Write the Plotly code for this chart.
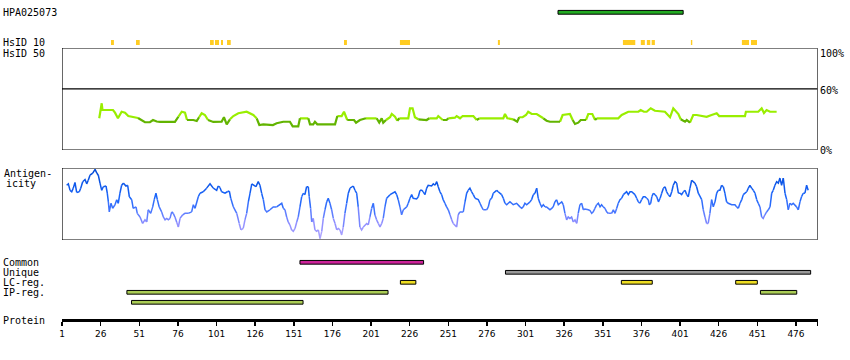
import plotly.graph_objects as go

# ---------------- data ----------------
protein_length = 489
tick_values = list(range(1, 477, 25))
tick_labels = [str(v) for v in tick_values]

antibody_name = "HPA025073"
antigen_start = [322]
antigen_end = [403]

hsid10_start = [32.7, 48.9, 96.8, 100.0, 103.9, 107.8, 183.5, 219.7, 283.1, 364.0, 375.6, 379.5, 382.6, 408.0, 441.0, 446.9]
hsid10_end = [34.6, 51.3, 99.2, 102.6, 105.2, 110.2, 185.4, 226.2, 284.4, 372.0, 378.2, 381.7, 384.7, 408.9, 445.6, 450.8]

hsid50_pos = [25.1, 26.7, 27.2, 34.0, 35.3, 37.2, 39.6, 41.8, 43.9, 47.1,
              50.2, 52.6, 54.7, 57.9, 59.9, 62.3, 64.4, 74.1, 76.3, 78.5,
              80.6, 81.9, 86.0, 88.2, 89.7, 91.4, 93.5, 95.5, 98.9, 104.3,
              105.8, 107.6, 109.7, 111.9, 115.1, 120.5, 124.8, 127.0, 128.7, 131.3,
              137.5, 139.9, 144.2, 148.5, 150.3, 153.9, 155.0, 160.4, 161.5, 163.6,
              164.7, 166.2, 177.7, 179.2, 182.0, 183.5, 184.8, 185.6, 190.0, 191.3,
              193.8, 197.7, 204.6, 206.3, 207.9, 208.9, 210.7, 213.3, 214.4, 216.5,
              218.0, 219.3, 225.1, 226.2, 227.9, 229.4, 231.6, 237.0, 238.7, 243.5,
              244.5, 247.4, 249.9, 251.0, 255.3, 256.4, 258.6, 260.3, 267.2, 269.4,
              271.0, 286.6, 287.7, 289.2, 293.0, 295.6, 296.9, 299.1, 301.3, 302.7,
              305.0, 308.2, 312.5, 314.6, 316.8, 323.3, 325.0, 329.7, 331.5, 333.0,
              335.1, 336.7, 340.1, 341.6, 344.2, 346.0, 347.0, 361.0, 363.2, 367.5,
              374.0, 375.5, 377.6, 379.4, 382.0, 384.7, 391.2, 393.4, 394.5, 396.6,
              399.9, 401.4, 404.2, 405.3, 407.4, 409.5, 411.7, 418.2, 421.4, 424.7,
              426.3, 443.0, 443.6, 451.6, 453.8, 455.3, 457.0, 459.2, 463.5]
hsid50_val = [31.1, 45.8, 39.2, 39.2, 36.6, 31.1, 37.5, 36.6, 33.3, 32.4,
              31.4, 29.4, 27.2, 27.2, 29.4, 27.9, 27.5, 27.5, 32.6, 37.5,
              36.6, 29.4, 29.4, 28.4, 32.1, 36.0, 34.3, 29.4, 27.5, 27.7,
              32.1, 25.2, 30.1, 33.3, 36.0, 37.5, 34.3, 31.1, 24.5, 25.2,
              24.5, 26.2, 27.7, 27.7, 23.2, 23.2, 31.1, 31.1, 25.2, 25.2,
              27.7, 25.2, 25.2, 33.3, 33.3, 37.5, 33.3, 29.4, 29.4, 26.8,
              29.4, 31.1, 31.1, 26.8, 31.1, 26.8, 29.4, 32.1, 35.3, 32.6,
              28.7, 31.1, 31.1, 40.9, 40.9, 32.1, 30.1, 29.4, 31.1, 31.1,
              33.3, 29.4, 29.4, 31.1, 31.7, 33.3, 31.1, 33.3, 33.3, 29.4,
              31.1, 31.1, 35.3, 31.1, 30.1, 27.7, 32.1, 32.1, 34.3, 37.5,
              35.3, 35.3, 31.1, 28.7, 27.7, 27.7, 34.3, 35.3, 29.4, 25.5,
              26.8, 29.4, 29.4, 35.3, 35.3, 29.4, 31.1, 31.1, 34.3, 37.5,
              37.5, 39.2, 37.5, 37.5, 40.9, 38.5, 37.5, 34.3, 32.1, 40.9,
              35.3, 30.1, 27.7, 29.4, 26.8, 34.3, 34.3, 32.6, 34.3, 36.0,
              33.3, 33.3, 37.5, 37.5, 40.9, 36.3, 39.2, 37.5, 37.5]

antigenicity_profile = [
    (4.0, .76), (5.1, .78), (6.2, .69), (7.3, .67), (8.3, .72), (9.4, .80), (10.5, .66), (12.2, .67), (13.1, .72), (14.4, .81),
    (15.9, .84), (17.0, .78), (18.0, .83), (19.1, .90), (20.9, .93), (22.4, .98), (23.5, .93), (24.5, .90), (25.6, .79), (26.7, .69),
    (27.7, .74), (29.5, .75), (30.3, .65), (31.0, .53), (31.6, .39), (32.7, .51), (33.8, .44), (35.3, .49), (36.4, .56), (37.4, .51),
    (38.5, .65), (39.6, .76), (40.7, .79), (42.4, .75), (43.5, .76), (44.6, .60), (46.1, .56), (47.1, .44), (48.9, .46), (49.7, .37),
    (51.5, .32), (53.2, .23), (54.7, .28), (55.8, .25), (56.8, .42), (58.4, .37), (59.7, .46), (60.7, .56), (61.8, .65), (62.7, .56),
    (63.9, .46), (65.5, .39), (66.6, .32), (67.7, .28), (68.8, .30), (69.8, .28), (70.9, .30), (72.0, .39), (73.0, .37), (74.1, .32),
    (75.2, .25), (76.3, .18), (77.4, .30), (79.1, .35), (80.6, .37), (82.7, .37), (84.9, .39), (86.0, .49), (87.1, .44), (89.2, .60),
    (90.3, .65), (92.4, .67), (94.6, .72), (96.8, .78), (98.9, .72), (101.1, .69), (102.1, .75), (103.2, .73), (104.3, .67), (106.5, .65),
    (108.0, .67), (109.3, .68), (110.2, .58), (111.9, .46), (114.1, .37), (115.7, .23), (116.8, .14), (118.3, .16), (119.4, .28), (120.5, .37),
    (121.6, .53), (122.7, .65), (123.8, .78), (124.8, .76), (126.5, .74), (128.0, .81), (129.1, .76), (130.2, .65), (131.3, .56), (132.4, .42),
    (133.5, .39), (135.6, .42), (137.7, .46), (139.9, .46), (142.1, .49), (143.2, .51), (144.2, .44), (145.3, .42), (146.4, .32), (147.4, .25),
    (148.5, .21), (149.6, .14), (150.7, .12), (151.8, .16), (152.9, .25), (153.9, .32), (155.0, .46), (156.1, .60), (157.2, .65), (158.2, .63),
    (159.3, .74), (160.4, .74), (161.0, .60), (161.9, .44), (162.6, .25), (163.6, .30), (164.7, .14), (165.8, .12), (166.9, .14), (168.0, .02),
    (169.1, .12), (170.1, .30), (171.2, .42), (172.3, .53), (173.3, .58), (174.4, .51), (175.5, .42), (176.6, .30), (177.7, .23), (178.8, .14),
    (179.8, .16), (180.9, .14), (182.0, .07), (183.0, .18), (184.1, .37), (185.2, .51), (186.3, .65), (187.4, .72), (188.5, .74), (189.5, .75),
    (190.6, .69), (191.7, .65), (192.7, .46), (193.8, .18), (194.9, .14), (196.0, .18), (197.1, .21), (198.2, .23), (199.2, .21), (200.3, .32),
    (201.4, .44), (202.5, .51), (203.5, .35), (204.6, .28), (205.7, .23), (206.8, .18), (207.9, .23), (208.9, .30), (210.0, .46), (211.1, .58),
    (212.2, .60), (213.3, .63), (215.4, .66), (216.5, .67), (217.6, .63), (218.6, .56), (219.7, .46), (220.8, .35), (221.9, .42), (223.0, .44),
    (224.1, .46), (225.1, .51), (226.2, .58), (227.3, .63), (228.3, .58), (230.5, .57), (231.6, .60), (232.7, .69), (233.8, .69), (234.8, .67),
    (235.9, .63), (237.0, .72), (238.0, .76), (240.2, .75), (241.3, .78), (242.4, .76), (243.5, .81), (244.5, .74), (245.6, .67), (246.7, .63),
    (247.7, .56), (248.8, .51), (249.9, .46), (251.0, .42), (252.1, .35), (253.2, .28), (254.2, .23), (255.3, .21), (256.4, .18), (257.4, .35),
    (258.5, .39), (260.7, .39), (261.8, .53), (262.9, .65), (263.9, .69), (265.0, .72), (266.1, .67), (267.2, .63), (268.3, .58), (270.4, .56),
    (271.5, .51), (272.6, .46), (273.6, .42), (275.8, .42), (276.9, .46), (278.0, .56), (279.1, .58), (280.1, .65), (282.3, .69), (283.3, .67),
    (284.4, .65), (285.5, .63), (286.6, .58), (287.7, .51), (288.8, .49), (289.8, .51), (290.9, .53), (292.0, .51), (293.0, .49), (295.2, .51),
    (297.4, .46), (298.5, .44), (299.5, .46), (300.6, .51), (301.7, .49), (302.8, .51), (303.9, .53), (304.9, .56), (306.0, .63), (307.1, .65),
    (308.2, .72), (309.2, .58), (310.3, .51), (311.4, .46), (312.5, .49), (313.6, .46), (314.6, .46), (315.7, .44), (316.8, .42), (317.9, .44),
    (318.9, .46), (320.0, .53), (321.1, .56), (322.2, .49), (323.3, .51), (324.4, .53), (325.4, .49), (326.5, .37), (327.6, .28), (328.6, .32),
    (329.7, .30), (330.8, .32), (331.9, .25), (333.0, .28), (334.1, .23), (335.1, .37), (336.2, .49), (337.3, .51), (338.4, .42), (339.4, .43),
    (341.6, .42), (342.7, .41), (343.8, .37), (344.8, .39), (345.9, .44), (347.0, .49), (348.1, .51), (349.2, .46), (350.2, .49), (351.3, .46),
    (352.4, .44), (353.5, .39), (354.5, .37), (356.7, .37), (357.8, .42), (358.9, .37), (360.0, .44), (361.0, .51), (362.1, .56), (363.2, .58),
    (364.3, .63), (365.3, .65), (366.4, .67), (367.5, .63), (368.6, .67), (369.7, .67), (370.7, .65), (371.8, .63), (372.9, .58), (374.0, .53),
    (375.0, .51), (376.1, .56), (377.2, .60), (378.3, .60), (379.4, .58), (380.4, .56), (381.1, .49), (382.0, .51), (382.7, .60), (383.7, .65),
    (384.8, .63), (385.9, .60), (387.0, .53), (388.1, .58), (389.1, .65), (390.2, .72), (391.3, .74), (392.3, .67), (393.4, .63), (394.5, .60),
    (395.6, .67), (396.6, .76), (397.7, .81), (398.8, .79), (399.9, .65), (400.9, .65), (402.0, .63), (403.1, .67), (404.2, .69), (405.3, .63),
    (406.3, .60), (407.4, .72), (408.5, .83), (409.6, .81), (410.6, .79), (411.7, .74), (412.8, .65), (413.9, .60), (415.0, .56), (416.0, .42),
    (417.1, .32), (418.2, .23), (419.2, .23), (420.3, .37), (421.4, .56), (422.5, .46), (423.6, .53), (424.7, .65), (425.7, .69), (426.8, .69),
    (427.9, .76), (429.0, .74), (430.0, .65), (431.1, .53), (432.2, .51), (434.4, .49), (436.5, .49), (437.6, .46), (438.7, .44), (439.8, .51),
    (440.9, .56), (441.9, .63), (443.0, .65), (444.1, .67), (445.2, .72), (446.2, .76), (447.3, .72), (448.4, .69), (449.5, .65), (450.6, .56),
    (451.6, .51), (452.7, .46), (453.8, .32), (454.8, .30), (455.9, .35), (457.0, .39), (458.1, .42), (459.2, .46), (460.3, .65), (461.3, .69),
    (462.4, .76), (463.5, .81), (464.6, .79), (465.6, .86), (466.7, .76), (467.8, .86), (468.9, .65), (470.0, .56), (471.0, .42), (472.1, .51),
    (473.2, .49), (474.2, .51), (475.3, .49), (476.4, .46), (477.5, .42), (478.6, .53), (479.6, .60), (480.7, .65), (481.8, .65), (482.9, .76),
    (483.9, .69),
]
antigen_pos = [p for p, _ in antigenicity_profile]
antigen_val = [v for _, v in antigenicity_profile]

common_start = [155]
common_end = [235]
unique_start = [288]
unique_end = [485.5]
lc_start = [220, 363, 437]
lc_end = [230, 383, 451]
ip_start = [43, 453, 46]
ip_end = [212, 476.5, 157]
ip_row = [3, 3, 4]

# ---------------- helpers ----------------
def colored_segments(xs, ys, color_of):
    groups = {}
    for i in range(len(xs) - 1):
        c = color_of((ys[i] + ys[i + 1]) / 2.0)
        gx, gy = groups.setdefault(c, ([], []))
        if gx and gx[-1] == xs[i] and gy[-1] == ys[i]:
            gx.append(xs[i + 1]); gy.append(ys[i + 1])
        else:
            if gx:
                gx.append(None); gy.append(None)
            gx.extend([xs[i], xs[i + 1]]); gy.extend([ys[i], ys[i + 1]])
    return groups


def hsid_color(v):
    return "#62b400" if v < 30.5 else "#99ee00"


blue_stops = [(0.0, (180, 170, 255)), (0.25, (140, 140, 255)), (0.4, (75, 120, 255)),
              (0.6, (25, 100, 250)), (1.0, (0, 70, 210))]


def antigen_color(v):
    v = round(v * 20) / 20.0
    v = min(max(v, 0.0), 1.0)
    for (a, ca), (b, cb) in zip(blue_stops[:-1], blue_stops[1:]):
        if a <= v <= b:
            t = (v - a) / (b - a)
            c = [int(round(ca[k] + t * (cb[k] - ca[k]))) for k in range(3)]
            return "rgb(%d,%d,%d)" % tuple(c)
    return "rgb(0,70,210)"


# ---------------- figure ----------------
fig = go.Figure()

# top track: antibody antigen region
fig.add_trace(go.Bar(
    orientation="h", y=[0] * len(antigen_start),
    x=[e - s for s, e in zip(antigen_start, antigen_end)], base=antigen_start,
    width=0.125, marker=dict(color="#22aa22", line=dict(color="black", width=1)),
    xaxis="x", yaxis="y", hoverinfo="skip"))

# HsID 10 marks
fig.add_trace(go.Bar(
    orientation="h", y=[1] * len(hsid10_start),
    x=[e - s for s, e in zip(hsid10_start, hsid10_end)], base=hsid10_start,
    width=0.166, marker=dict(color="#ffcc22", line=dict(width=0)),
    xaxis="x", yaxis="y", hoverinfo="skip"))

# HsID 50 line
for col, (gx, gy) in colored_segments(hsid50_pos, hsid50_val, hsid_color).items():
    fig.add_trace(go.Scatter(x=gx, y=gy, mode="lines", line=dict(color=col, width=2.2),
                             xaxis="x", yaxis="y2", hoverinfo="skip"))

# Antigenicity line
for col, (gx, gy) in colored_segments(antigen_pos, antigen_val, antigen_color).items():
    fig.add_trace(go.Scatter(x=gx, y=gy, mode="lines", line=dict(color=col, width=1.5),
                             xaxis="x", yaxis="y3", hoverinfo="skip"))

# feature bars
def add_feature(starts, ends, rows, color):
    fig.add_trace(go.Bar(
        orientation="h", y=rows, x=[e - s for s, e in zip(starts, ends)], base=starts,
        width=0.37, marker=dict(color=color, line=dict(color="black", width=1)),
        xaxis="x", yaxis="y4", hoverinfo="skip"))

add_feature(common_start, common_end, [0] * len(common_start), "#cc2299")
add_feature(unique_start, unique_end, [1] * len(unique_start), "#999999")
add_feature(lc_start, lc_end, [2] * len(lc_start), "#eedd22")
add_feature(ip_start, ip_end, ip_row, "#aacc55")

W, H = 850, 360
x_left_px, x_right_px = 62.0, 817.6

def pdom(top_px, bottom_px):
    return [1 - bottom_px / H, 1 - top_px / H]

fig.update_layout(
    template="none",
    width=W, height=H, autosize=False,
    margin=dict(l=0, r=0, t=0, b=0, pad=0),
    paper_bgcolor="white", plot_bgcolor="white",
    showlegend=False, barmode="overlay", hovermode=False,
    xaxis=dict(domain=[x_left_px / W, x_right_px / W], range=[1, protein_length + 1],
               anchor="free", position=1 - 319.8 / H, automargin=False,
               showline=True, linecolor="black", linewidth=3,
               ticks="outside", ticklen=4, tickwidth=1.5, tickcolor="black",
               tickvals=tick_values + [protein_length + 1], ticktext=tick_labels + [""],
               tickfont=dict(family="DejaVu Sans", size=9, color="black"),
               showgrid=False, zeroline=False, fixedrange=True),
    yaxis=dict(domain=pdom(0, 47), range=[(47 - 12.3) / 30.2, -12.3 / 30.2],
               visible=False, fixedrange=True, automargin=False),
    yaxis2=dict(domain=pdom(48, 150), range=[0, 100], visible=False, anchor="x",
                fixedrange=True, automargin=False),
    yaxis3=dict(domain=pdom(168, 240), range=[0, 1], visible=False, anchor="x",
                fixedrange=True, automargin=False),
    yaxis4=dict(domain=pdom(257.3, 307.3), range=[4.5, -0.5], visible=False, anchor="x",
                fixedrange=True, automargin=False),
)

shapes = [
    dict(type="rect", xref="x", yref="y2", x0=1, x1=protein_length + 1, y0=0, y1=100,
         line=dict(color="black", width=1.2), fillcolor="rgba(0,0,0,0)", layer="above"),
    dict(type="line", xref="x", yref="y2", x0=1, x1=protein_length + 1, y0=60, y1=60,
         line=dict(color="black", width=1.2), layer="above"),
    dict(type="rect", xref="x", yref="y3", x0=1, x1=protein_length + 1, y0=0, y1=1,
         line=dict(color="black", width=1.2), fillcolor="rgba(0,0,0,0)", layer="above"),
]
fig.update_layout(shapes=shapes)

mono = dict(family="DejaVu Sans Mono", size=10, color="black")

def label(text, x_px, y_px, anchor="left"):
    fig.add_annotation(text=text, x=x_px / W, y=1 - y_px / H, xref="paper", yref="paper",
                       xanchor=anchor, yanchor="middle", showarrow=False, font=mono,
                       borderpad=0)

label(antibody_name, 2, 13)
label("HsID 10", 2, 42.5)
label("HsID 50", 2, 53)
label("100%", 819, 53)
label("60%", 819, 90.5)
label("0%", 819, 150)
label("Antigen-", 3, 173)
label("icity", 5, 183.5)
label("Common", 2, 262.5)
label("Unique", 2, 272.5)
label("LC-reg.", 2, 282.5)
label("IP-reg.", 2, 292.5)
label("Protein", 2, 320)

fig.write_html("out.html",
               config={"displayModeBar": False, "staticPlot": True},
               post_script="document.body.style.margin='0';document.body.style.overflow='hidden';")
